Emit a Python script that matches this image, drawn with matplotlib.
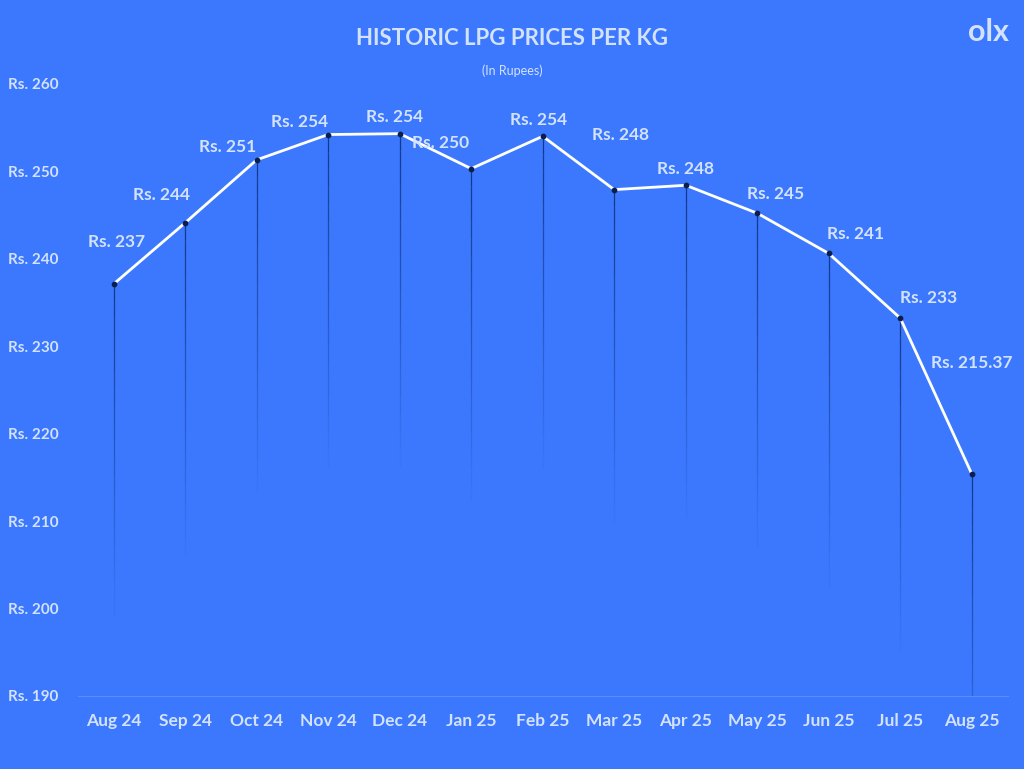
import matplotlib.pyplot as plt
import numpy as np

months = ['Aug 24', 'Sep 24', 'Oct 24', 'Nov 24', 'Dec 24', 'Jan 25', 'Feb 25',
          'Mar 25', 'Apr 25', 'May 25', 'Jun 25', 'Jul 25', 'Aug 25']
prices = [237.1, 244.1, 251.3, 254.2, 254.3, 250.3, 254.0,
          247.9, 248.4, 245.2, 240.6, 233.2, 215.37]
labels = ['Rs. 237', 'Rs. 244', 'Rs. 251', 'Rs. 254', 'Rs. 254', 'Rs. 250', 'Rs. 254',
          'Rs. 248', 'Rs. 248', 'Rs. 245', 'Rs. 241', 'Rs. 233', 'Rs. 215.37']
yticks = [190, 200, 210, 220, 230, 240, 250, 260]

# label offsets in pixels (dx, dy)
offsets = [(3, 42), (-24, 28), (-29, 13), (-29, 13), (-5, 17), (-31, 26), (-4, 16),
           (6, 55), (0, 16), (18, 19), (27, 19), (28, 20), (0, 111)]

BG = '#3B78FE'
TXT = '#D3E2FF'
FONT = 'Lato'

fig = plt.figure(figsize=(10.24, 7.69), dpi=100, facecolor=BG)
ax = fig.add_axes([0.076, 0.095, 0.908, 0.796], facecolor=BG)
x = np.arange(len(months))

# fading drop lines
for xi, p in zip(x, prices):
    segs = np.linspace(p, p - 38, 20)
    for k in range(len(segs) - 1):
        ax.plot([xi, xi], [segs[k], segs[k + 1]], color='#0B2A6E',
                alpha=0.8 * (1 - k / 19), lw=0.9, zorder=1, solid_capstyle='butt')

ax.plot(x, prices, color='white', lw=2, zorder=2)
ax.scatter(x, prices, s=10, color='#0B1F4D', zorder=3)

for xi, p, lab, (dx, dy) in zip(x, prices, labels, offsets):
    ax.annotate(lab, (xi, p), xytext=(dx * 0.72, dy * 0.72), textcoords='offset points',
                ha='center', va='center', color=TXT, fontsize=12.5,
                fontweight='bold', family=FONT)

ax.set_xlim(-0.5, 12.5)
ax.set_ylim(190, 260)
ax.set_xticks(x)
ax.set_xticklabels(months, color=TXT, fontsize=12.5, fontweight='bold', family=FONT)
ax.set_yticks(yticks)
ax.set_yticklabels([f'Rs. {v}' for v in yticks], color=TXT, fontsize=11,
                   fontweight='bold', family=FONT)
for lab in ax.get_yticklabels():
    lab.set_horizontalalignment('left')
ax.tick_params(axis='y', length=0, pad=50)
ax.tick_params(axis='x', length=0, pad=12)
for s in ['top', 'right', 'left']:
    ax.spines[s].set_visible(False)
ax.spines['bottom'].set_color('#5A8CF5')
ax.spines['bottom'].set_linewidth(0.8)

fig.text(0.5, 0.95, 'HISTORIC LPG PRICES PER KG', ha='center', va='center',
         color=TXT, fontsize=16, fontweight='bold', family=FONT)
fig.text(0.5, 0.908, '(In Rupees)', ha='center', va='center', color=TXT,
         fontsize=9, family=FONT)
fig.text(0.965, 0.958, 'olx', ha='center', va='center', color=TXT,
         fontsize=22, fontweight='bold', family=FONT)

fig.savefig('out.png', dpi=100, facecolor=BG)
